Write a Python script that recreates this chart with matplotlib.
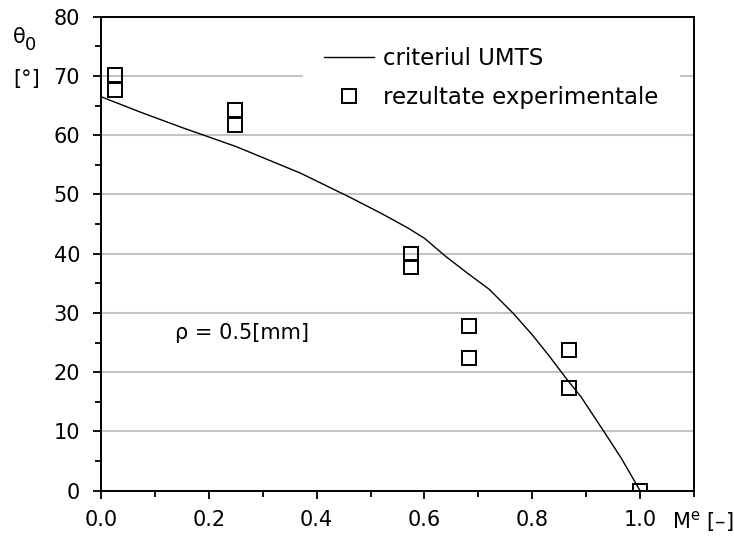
import matplotlib
matplotlib.use("Agg")
import matplotlib.pyplot as plt
from matplotlib.ticker import MultipleLocator, FixedLocator

plt.rcParams['font.family'] = ['DejaVu Sans']

# UMTS criterion curve
curve_x = [0.0, 0.07, 0.15, 0.25, 0.37, 0.46, 0.52, 0.57, 0.60, 0.64, 0.68, 0.72,
           0.765, 0.80, 0.83, 0.865, 0.89, 0.935, 0.965, 1.0]
curve_y = [66.5, 64.0, 61.3, 58.1, 53.6, 49.6, 46.8, 44.3, 42.6, 39.5, 36.7, 34.0,
           29.9, 26.3, 22.9, 18.7, 15.9, 9.7, 5.5, 0.0]

# experimental results
exp_x = [0.026, 0.026, 0.249, 0.249, 0.575, 0.575, 0.683, 0.683, 0.868, 0.868, 0.999]
exp_y = [70.1, 67.7, 64.2, 61.8, 40.0, 37.8, 27.8, 22.4, 23.7, 17.4, 0.0]

x_ticks = [0.0, 0.2, 0.4, 0.6, 0.8, 1.0]
x_ticklabels = ["0.0", "0.2", "0.4", "0.6", "0.8", "1.0"]
y_ticks = [0, 10, 20, 30, 40, 50, 60, 70, 80]

fig = plt.figure(figsize=(7.34, 5.41), dpi=100)
ax = fig.add_axes([101/734, 1-490.7/541, (694-101)/734, (490.7-16.7)/541])

ax.plot(curve_x, curve_y, color='black', lw=1.0, label='criteriul UMTS', zorder=3)
ax.plot(exp_x, exp_y, ls='none', marker='s', ms=10, mfc='none', mec='black', mew=1.4,
        label='rezultate experimentale', zorder=4)

ax.set_xlim(0, 1.1)
ax.set_ylim(0, 80)
ax.set_xticks(x_ticks)
ax.set_xticklabels(x_ticklabels)
ax.xaxis.set_minor_locator(FixedLocator([0.1, 0.3, 0.5, 0.7, 0.9, 1.1]))
ax.set_yticks(y_ticks)
ax.yaxis.set_minor_locator(MultipleLocator(5))

ax.tick_params(which='major', direction='out', length=6, width=1.3, labelsize=15, pad=9)
ax.tick_params(which='minor', direction='out', length=4.5, width=1.3)
ax.tick_params(axis='x', which='major', pad=8)

for s in ax.spines.values():
    s.set_linewidth(1.4)
    s.set_color('black')

ax.grid(axis='y', which='major', color='#c4c4c4', lw=1.5)
ax.set_axisbelow(True)

leg = ax.legend(loc='upper left', bbox_to_anchor=(0.341, 0.98), frameon=True, fontsize=16.5,
                handlelength=2.2, handletextpad=0.4, labelspacing=0.72, borderpad=0.9,
                borderaxespad=0)
leg.get_frame().set_edgecolor('white')
leg.get_frame().set_facecolor('white')
leg.get_frame().set_alpha(1)
leg.get_frame().set_boxstyle('square', pad=0)

ax.text(0.137, 26.6, 'ρ = 0.5[mm]', fontsize=15, va='center', ha='left')

fig.text(13/734, 1-37/541, 'θ', fontsize=15, ha='left', va='center')
fig.text(25/734, 1-45/541, '0', fontsize=13, ha='left', va='center')
fig.text(13/734, 1-79/541, '[°]', fontsize=15, ha='left', va='center')
fig.text(672/734, 1-522/541, 'M$^{\\mathrm{e}}$ [–]', fontsize=15, ha='left', va='center')

fig.savefig('out.png', dpi=100)
